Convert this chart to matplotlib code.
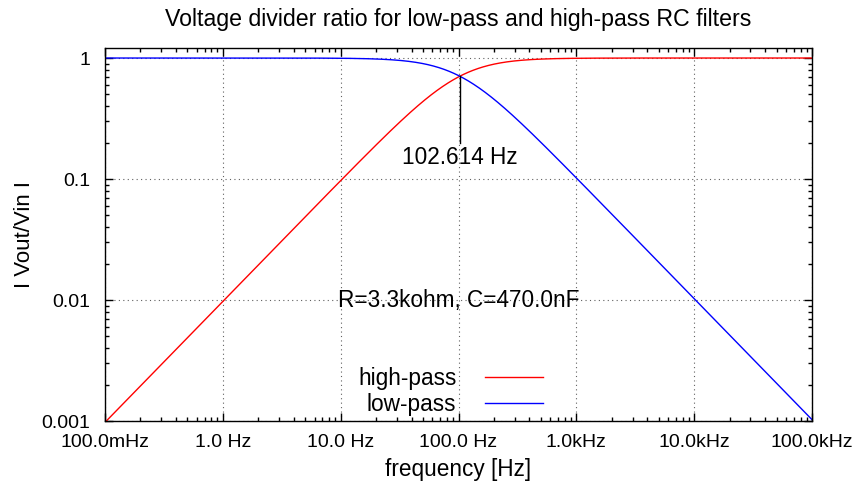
import numpy as np
import matplotlib
matplotlib.use("Agg")
import matplotlib.pyplot as plt
from matplotlib.ticker import LogLocator, FixedLocator, FixedFormatter, NullFormatter

plt.rcParams['font.family'] = ['Liberation Sans', 'DejaVu Sans']

# Circuit values
R_ohm = 3.3e3
C_farad = 470.0e-9
f_min, f_max = 0.1, 1.0e5

x_ticks = [0.1, 1, 10, 100, 1e3, 1e4, 1e5]
x_labels = ["100.0mHz", "1.0 Hz", "10.0 Hz", "100.0 Hz", "1.0kHz", "10.0kHz", "100.0kHz"]
y_ticks = [0.001, 0.01, 0.1, 1]
y_labels = ["0.001", "0.01", "0.1", "1"]

f = np.logspace(np.log10(f_min), np.log10(f_max), 1000)
wrc = 2 * np.pi * f * R_ohm * C_farad
high_pass = wrc / np.sqrt(1 + wrc**2)
low_pass = 1 / np.sqrt(1 + wrc**2)
f_c = 1 / (2 * np.pi * R_ohm * C_farad)
ratio_c = 1 / np.sqrt(2)

TICK_FS = 14
TEXT_FS = 16.3

fig = plt.figure(figsize=(8.52, 4.87), dpi=100)
ax = fig.add_axes([105/852, 1 - 421/487, 707/852, 373/487])

ax.plot(f, high_pass, color='#ff0000', lw=1.0, label='high-pass')
ax.plot(f, low_pass, color='#0000ff', lw=1.0, label='low-pass')

ax.set_xscale('log')
ax.set_yscale('log')
ax.set_xlim(f_min, f_max)
ax.set_ylim(0.001, 1.21)

ax.xaxis.set_major_locator(FixedLocator(x_ticks))
ax.xaxis.set_major_formatter(FixedFormatter(x_labels))
ax.yaxis.set_major_locator(FixedLocator(y_ticks))
ax.yaxis.set_major_formatter(FixedFormatter(y_labels))
ax.xaxis.set_minor_locator(LogLocator(base=10, subs=np.arange(2, 10), numticks=20))
ax.yaxis.set_minor_locator(LogLocator(base=10, subs=np.arange(2, 10), numticks=20))
ax.xaxis.set_minor_formatter(NullFormatter())
ax.yaxis.set_minor_formatter(NullFormatter())

ax.tick_params(which='both', direction='in', top=True, right=True, labelsize=TICK_FS, width=1, color='black')
ax.tick_params(which='major', length=6)
ax.tick_params(which='minor', length=3)
ax.tick_params(axis='x', which='major', pad=9.5)
ax.tick_params(axis='y', which='major', pad=10.5)
for s in ax.spines.values():
    s.set_linewidth(1.0)

ax.grid(True, which='major', linestyle=(0, (1, 3)), color='#606060', lw=0.8)

ax.set_title("Voltage divider ratio for low-pass and high-pass RC filters", fontsize=16.7, pad=16)
ax.set_xlabel("frequency [Hz]", fontsize=TEXT_FS, labelpad=5)
ax.set_ylabel("I Vout/Vin I", fontsize=16, labelpad=5)

# Cutoff marker
ax.plot([f_c, f_c], [ratio_c, 0.2], color='black', lw=1.0)
ax.text(f_c, 0.152, f"{f_c:.3f} Hz", ha='center', va='center', fontsize=TEXT_FS)
ax.text(100, 0.01, f"R={R_ohm/1e3:.1f}kohm, C={C_farad*1e9:.1f}nF", ha='center', va='center', fontsize=TEXT_FS)

leg = ax.legend(loc='center', bbox_to_anchor=(0.489, 0.079), frameon=False, fontsize=TEXT_FS,
                markerfirst=False, handlelength=2.57, handletextpad=1.28, labelspacing=0.115,
                borderaxespad=0.0, borderpad=0.0)
for t in leg.get_texts():
    t.set_ha('right')

fig.savefig("out.png", dpi=100)
